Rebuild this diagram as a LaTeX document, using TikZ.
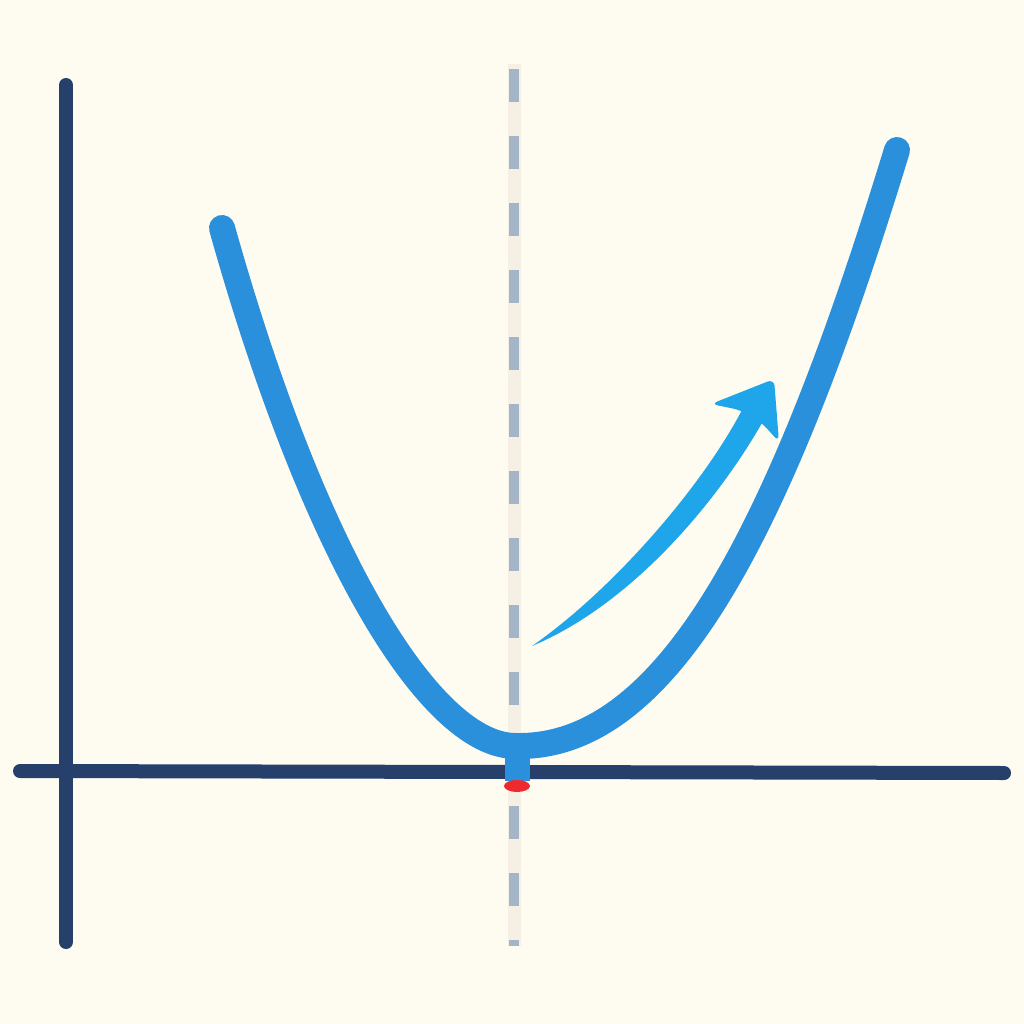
\documentclass[tikz,border=0pt]{standalone}
\begin{document}
\begin{tikzpicture}[x=1pt,y=-1pt,
  axisline/.style={draw=axisblue,line width=14pt,line cap=round},
  curveline/.style={draw=parablue,line width=26pt,line cap=round},
]
\definecolor{bg}{HTML}{FEFCF0}
\definecolor{axisblue}{HTML}{263F6B}
\definecolor{stripe}{HTML}{F6F0E4}
\definecolor{dashgray}{HTML}{A3B5C6}
\definecolor{parablue}{HTML}{2A90DC}
\definecolor{arrowblue}{HTML}{1FA6EA}
\definecolor{markred}{HTML}{EE2A2F}
\useasboundingbox[fill=bg] (0,0) rectangle (1024,1024);
% axis of symmetry
\coordinate (st) at (514,64);
\coordinate (sb) at (514,946);
\draw[stripe,line width=13pt] (st) -- (sb);
\draw[dashgray,line width=10pt,dash pattern=on 33pt off 34pt,dash phase=0pt] (514,69) -- (sb);
% axes
\coordinate (yt) at (66,85);
\coordinate (yb) at (66,942);
\coordinate (xl) at (20,771);
\coordinate (xr) at (1004,773);
\draw[axisline] (yb) -- (yt);
\draw[axisline] (xl) -- (xr);
% vertex stem and mark
\fill[parablue] (505,740) rectangle (530,781);
\fill[markred] (517,786) ellipse (13pt and 6pt);
% parabola
\coordinate (pl) at (222,228);
\coordinate (pv) at (517,746);
\coordinate (pr) at (897,150);
\draw[curveline] (pl) .. controls (318,570) and (435,748) .. (pv)
                      .. controls (665,748) and (778,540) .. (pr);
% arrow shaft
\coordinate (tail) at (532,646);
\fill[arrowblue] (tail) .. controls (610,592) and (700,490) .. (742,410)
   -- (762,423) .. controls (715,505) and (630,605) .. (tail) -- cycle;
% arrow head
\fill[arrowblue,rounded corners=7pt] (774,379) -- (711,404) -- (740,410) -- (762,423) -- (779,442) -- cycle;
\end{tikzpicture}
\end{document}
